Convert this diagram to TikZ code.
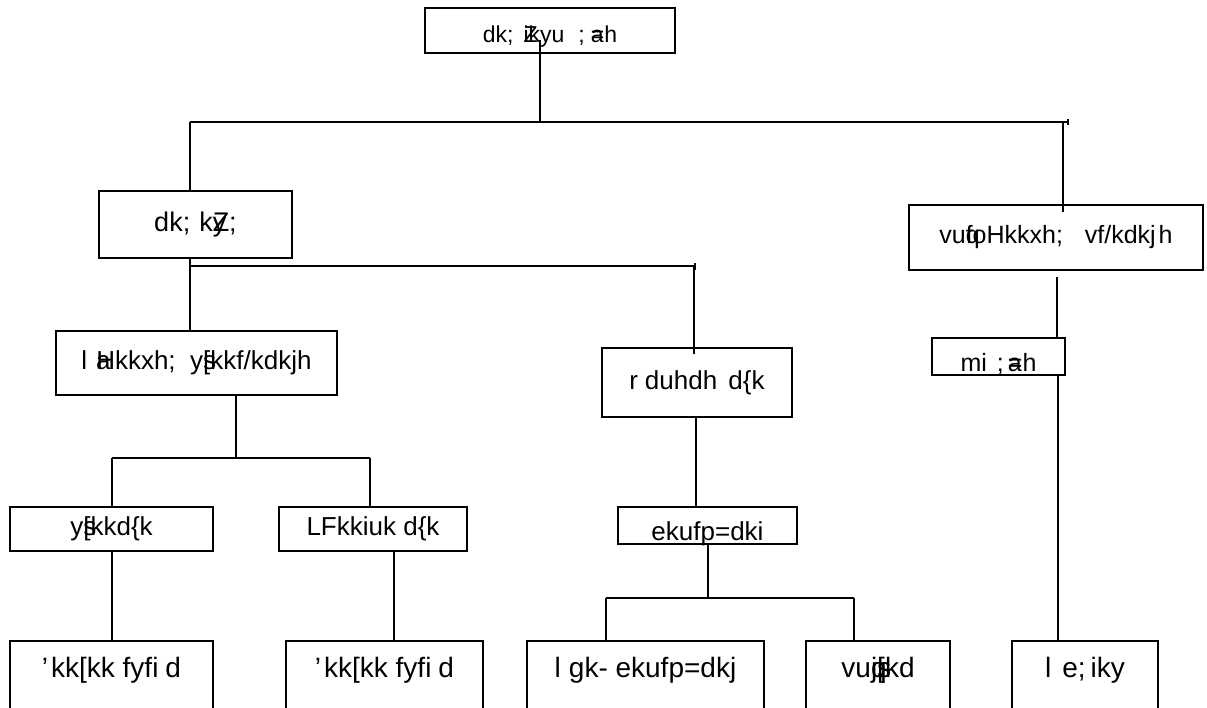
\documentclass[tikz,border=0pt]{standalone}
\usepackage{fontspec}
\setmainfont{Liberation Sans}
\newcommand{\shiftt}[2]{\raisebox{#1}[0pt][0pt]{#2}}
\begin{document}
\begin{tikzpicture}[x=1pt,y=-1pt,
  box/.style={draw, line width=2pt, inner sep=0pt, align=center},
  ln/.style={line width=2pt}]
\clip (0,0) rectangle (1207,708);
% nodes
\node[box, minimum width=250, minimum height=45, font=\fontsize{23}{23}\selectfont] (n1) at (550,30.5) {\shiftt{-12pt}{dk;\kern10pt\rlap{Z}ikyu\kern14pt;\kern6pt\rlap{a}=h}};
\node[box, minimum width=193, minimum height=67, font=\fontsize{27}{27}\selectfont] (n2) at (195.5,224.5) {dk;\kern9pt k\rlap{Z}y\kern3pt;};
\node[box, minimum width=294, minimum height=65, font=\fontsize{25}{25}\selectfont] (n3) at (1056,237.5) {vu\rlap{q}foHkkxh;\ \ \kern8pt vf/kdkj\kern3pt h};
\node[box, minimum width=281, minimum height=64, font=\fontsize{26}{26}\selectfont] (n4) at (196.5,363) {l\kern9pt\rlap{a}Hkkxh;\ \ y\rlap{s}[kkf/kdkjh};
\node[box, minimum width=190, minimum height=69, font=\fontsize{26}{26}\selectfont] (n5) at (697,382.5) {r\kern7pt duhdh\ \kern4pt d\{k};
\node[box, minimum width=133, minimum height=37, font=\fontsize{25}{25}\selectfont] (n6) at (998.5,356.5) {\shiftt{-15pt}{mi\kern10pt;\kern4pt\rlap{a}=h}};
\node[box, minimum width=203, minimum height=44, font=\fontsize{26}{26}\selectfont] (n7) at (111.5,529) {y\rlap{s}[kkd\{k};
\node[box, minimum width=188, minimum height=44, font=\fontsize{26}{26}\selectfont] (n8) at (373,529) {LFkkiuk d\{k};
\node[box, minimum width=179, minimum height=37, font=\fontsize{26}{26}\selectfont] (n9) at (707.5,525.5) {\shiftt{-15pt}{ekufp=dki}};
\node[box, minimum width=203, minimum height=80, font=\fontsize{28}{28}\selectfont] (n10) at (111.5,681) {\shiftt{4pt}{'\kern3pt kk[kk fyfi\kern7pt d}};
\node[box, minimum width=197, minimum height=80, font=\fontsize{28}{28}\selectfont] (n11) at (384.5,681) {\shiftt{4pt}{'\kern3pt kk[kk fyfi\kern7pt d}};
\node[box, minimum width=237, minimum height=80, font=\fontsize{28}{28}\selectfont] (n12) at (645.5,681) {\shiftt{4pt}{l\kern8pt gk- ekufp=dkj}};
\node[box, minimum width=144, minimum height=80, font=\fontsize{28}{28}\selectfont] (n13) at (878,681) {\shiftt{4pt}{vu\rlap{q}j\rlap{s}[kd}};
\node[box, minimum width=146, minimum height=80, font=\fontsize{28}{28}\selectfont] (n14) at (1085,681) {\shiftt{4pt}{l\kern11pt e;\kern5pt iky}};
% level 1 connectors
\coordinate (A) at (540,40);
\coordinate (B) at (540,122);
\coordinate (H1) at (190,122);
\coordinate (H2) at (1068,122);
\coordinate (R1) at (1063,122);
\draw[ln] (A) -- (B);
\draw[ln] (H1) -- (H2);
\draw[ln] ([yshift=3pt]H2) -- ([yshift=-3pt]H2);
\draw[ln] (H1) -- (H1 |- n2.north);
\draw[ln] (R1) -- ([yshift=-8pt]R1 |- n3.north);
% level 2 connectors
\coordinate (J1) at (190,266);
\coordinate (J2) at (695,266);
\coordinate (J3) at (694,266);
\draw[ln] (J1 |- n2.south) -- (J1) -- (J2);
\draw[ln] ([yshift=3pt]J2) -- ([yshift=-4pt]J2);
\draw[ln] (J1) -- (J1 |- n4.north);
\draw[ln] (J3) -- ([yshift=-7pt]J3 |- n5.north);
\coordinate (K1) at (1057,277);
\draw[ln] (K1) -- (K1 |- n6.north);
\coordinate (K2) at (1058,0);
\draw[ln] (K2 |- n6.south) -- (K2 |- n14.north);
% left branch
\coordinate (L1) at (236,458);
\coordinate (L2) at (112,458);
\coordinate (L3) at (370,458);
\coordinate (L4) at (394,0);
\draw[ln] (L1 |- n4.south) -- (L1);
\draw[ln] (L2) -- (L3);
\draw[ln] (L2) -- (L2 |- n7.north);
\draw[ln] (L3) -- (L3 |- n8.north);
\draw[ln] (L2 |- n7.south) -- (L2 |- n10.north);
\draw[ln] (L4 |- n8.south) -- (L4 |- n11.north);
% middle branch
\coordinate (M1) at (696,0);
\coordinate (M2) at (708,598);
\coordinate (M3) at (606,598);
\coordinate (M4) at (854,598);
\draw[ln] (M1 |- n5.south) -- (M1 |- n9.north);
\draw[ln] (M2 |- n9.south) -- (M2);
\draw[ln] (M3) -- (M4);
\draw[ln] (M3) -- (M3 |- n12.north);
\draw[ln] (M4) -- (M4 |- n13.north);
\end{tikzpicture}
\end{document}
